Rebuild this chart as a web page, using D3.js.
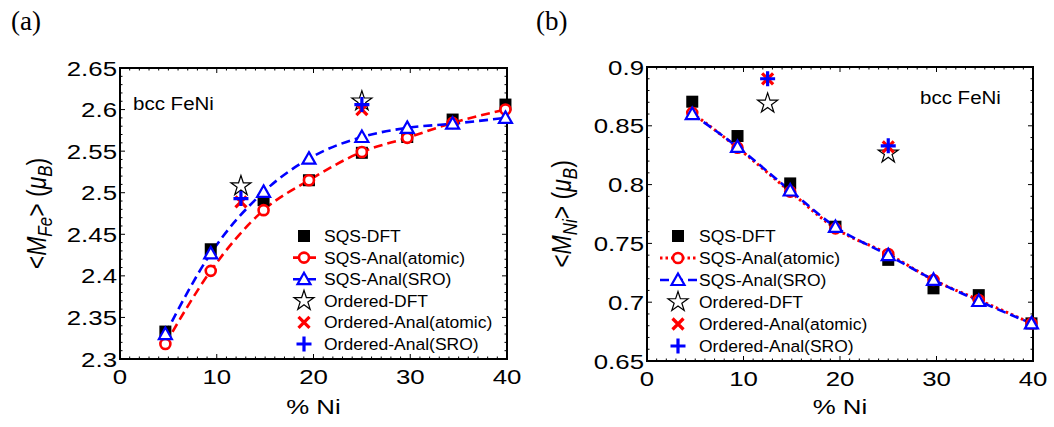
<!DOCTYPE html>
<html>
<head>
<meta charset="utf-8">
<script src="https://cdn.jsdelivr.net/npm/d3@7"></script>
<style>
  body { margin: 0; background: #fff; }
  svg { display: block; font-family: Arial, "Liberation Sans", sans-serif; }
</style>
</head>
<body>
<svg id="chart" width="1054" height="427"></svg>
<script>
// compositions (% Ni)
const xSqs = [4.69, 9.38, 14.84, 19.53, 25.0, 29.69, 34.38, 39.84];
const xOrdered = [12.5, 25.0];
const xTicks = [0, 10, 20, 30, 40];

// panel (a): Fe moments
const feSqsDft = [2.333, 2.432, 2.491, 2.515, 2.548, 2.567, 2.588, 2.606];
const feSqsAtomic = [2.318, 2.406, 2.479, 2.515, 2.549, 2.566, 2.584, 2.600];
const feSqsSro = [2.330, 2.427, 2.501, 2.541, 2.567, 2.578, 2.583, 2.590];
const feOrdDft = [2.508, 2.610];
const feOrdAtomic = [2.489, 2.600];
const feOrdSro = [2.493, 2.606];
const feTicks = [2.3, 2.35, 2.4, 2.45, 2.5, 2.55, 2.6, 2.65];

// panel (b): Ni moments
const niSqsDft = [0.8705, 0.8413, 0.801, 0.7642, 0.736, 0.7118, 0.706, 0.682];
const niSqsAtomic = [0.861, 0.8314, 0.794, 0.7628, 0.741, 0.7189, 0.7019, 0.682];
const niSqsSro = [0.860, 0.832, 0.795, 0.764, 0.740, 0.719, 0.701, 0.682];
const niOrdDft = [0.869, 0.8266];
const niOrdAtomic = [0.890, 0.832];
const niOrdSro = [0.890, 0.833];
const niTicks = [0.65, 0.7, 0.75, 0.8, 0.85, 0.9];

const legendLabels = ['SQS-DFT', 'SQS-Anal(atomic)', 'SQS-Anal(SRO)', 'Ordered-DFT', 'Ordered-Anal(atomic)', 'Ordered-Anal(SRO)'];

const svg = d3.select('#chart');
const TX = 1.26; // horizontal stretch of the tick/axis fonts

// stretched text helper
function stext(g, x, y, str, size, anchor, sx) {
  return g.append('text')
    .attr('transform', `translate(${x},${y}) scale(${sx},1)`)
    .attr('text-anchor', anchor)
    .attr('font-size', size)
    .text(str);
}

// marker drawing
function marker(g, kind, x, y) {
  if (kind === 'square') {
    g.append('rect').attr('x', x - 6).attr('y', y - 6).attr('width', 12).attr('height', 12).attr('fill', '#000');
  } else if (kind === 'circle') {
    g.append('circle').attr('cx', x).attr('cy', y).attr('r', 5).attr('fill', '#fff')
      .attr('stroke', '#f00').attr('stroke-width', 2.6);
  } else if (kind === 'triangle') {
    g.append('path').attr('d', `M${x},${y - 6.5} L${x + 6.5},${y + 5} L${x - 6.5},${y + 5} Z`)
      .attr('fill', '#fff').attr('stroke', '#00f').attr('stroke-width', 2.2).attr('stroke-linejoin', 'miter');
  } else if (kind === 'star') {
    g.append('path').attr('d', d3.symbol(d3.symbolStar, 125)())
      .attr('transform', `translate(${x},${y})`)
      .attr('fill', '#fff').attr('stroke', '#000').attr('stroke-width', 1.2);
  } else if (kind === 'cross') {
    const s = 5.5;
    g.append('path').attr('d', `M${x - s},${y - s}L${x + s},${y + s}M${x - s},${y + s}L${x + s},${y - s}`)
      .attr('stroke', '#f00').attr('stroke-width', 3.2);
  } else if (kind === 'plus') {
    const s = 7.5;
    g.append('path').attr('d', `M${x - s},${y}L${x + s},${y}M${x},${y - s}L${x},${y + s}`)
      .attr('stroke', '#00f').attr('stroke-width', 3.2);
  }
}

function drawPanel(p) {
  const g = svg.append('g');
  const x = d3.scaleLinear().domain([0, 40]).range([p.left, p.right]);
  const y = d3.scaleLinear().domain(p.yDomain).range([p.bottom, p.top]);

  // minor / major ticks, inward on all four sides
  const tg = g.append('g').attr('stroke', '#000').attr('stroke-width', 1);
  d3.range(0, 41).forEach(v => {
    const len = v % 10 === 0 ? 5 : 2.5;
    tg.append('line').attr('x1', x(v)).attr('x2', x(v)).attr('y1', p.bottom).attr('y2', p.bottom - len);
    tg.append('line').attr('x1', x(v)).attr('x2', x(v)).attr('y1', p.top).attr('y2', p.top + len);
  });
  const nMinor = Math.round((p.yDomain[1] - p.yDomain[0]) / 0.01);
  d3.range(0, nMinor + 1).forEach(i => {
    const v = p.yDomain[0] + i * 0.01;
    const len = i % 5 === 0 ? 5 : 2.5;
    tg.append('line').attr('y1', y(v)).attr('y2', y(v)).attr('x1', p.left).attr('x2', p.left + len);
    tg.append('line').attr('y1', y(v)).attr('y2', y(v)).attr('x1', p.right).attr('x2', p.right - len);
  });

  // frame
  g.append('rect').attr('x', p.left).attr('y', p.top)
    .attr('width', p.right - p.left).attr('height', p.bottom - p.top)
    .attr('fill', 'none').attr('stroke', '#000').attr('stroke-width', 2);

  // tick labels
  xTicks.forEach(v => stext(g, x(v), p.bottom + 25, v, 20.5, 'middle', TX));
  p.yTicks.forEach(v => stext(g, p.left - 3, y(v) + 7.5, d3.format('')(+v.toFixed(2)), 20.5, 'end', TX));

  // axis titles
  stext(g, (p.left + p.right) / 2, 414, '% Ni', 20.5, 'middle', TX);
  const yl = g.append('text')
    .attr('transform', `translate(${p.yLabelX},${(p.top + p.bottom) / 2}) rotate(-90) scale(1,1.2)`)
    .attr('text-anchor', 'middle').attr('font-size', 23);
  yl.append('tspan').text('<');
  yl.append('tspan').attr('font-style', 'italic').text('M');
  yl.append('tspan').attr('font-style', 'italic').attr('font-size', 17).attr('dy', 5).text(p.elem);
  yl.append('tspan').attr('dy', -5).text('> (');
  yl.append('tspan').attr('font-style', 'italic').text('μ');
  yl.append('tspan').attr('font-style', 'italic').attr('font-size', 17).attr('dy', 5).text('B');
  yl.append('tspan').attr('dy', -5).text(')');

  // panel letter
  g.append('text').attr('x', p.letterX).attr('y', 30)
    .attr('font-family', '"Times New Roman", "Liberation Serif", serif')
    .attr('font-size', 27).text(p.letter);

  // composition label
  stext(g, p.noteX, p.noteY, 'bcc FeNi', 19, 'start', 1.08);

  // lines
  const line = d3.line().x((d, i) => x(xSqs[i])).y(d => y(d)).curve(d3.curveMonotoneX);
  g.append('path').attr('d', line(p.sqsAtomic)).attr('fill', 'none')
    .attr('stroke', '#f00').attr('stroke-width', p.atomicWidth).attr('stroke-dasharray', p.atomicDash);
  g.append('path').attr('d', line(p.sqsSro)).attr('fill', 'none')
    .attr('stroke', '#00f').attr('stroke-width', 2.6).attr('stroke-dasharray', '9,5');

  // markers
  p.sqsDft.forEach((v, i) => marker(g, 'square', x(xSqs[i]), y(v)));
  p.sqsAtomic.forEach((v, i) => marker(g, 'circle', x(xSqs[i]), y(v)));
  p.sqsSro.forEach((v, i) => marker(g, 'triangle', x(xSqs[i]), y(v)));
  p.ordDft.forEach((v, i) => marker(g, 'star', x(xOrdered[i]), y(v)));
  p.ordAtomic.forEach((v, i) => marker(g, 'cross', x(xOrdered[i]), y(v)));
  p.ordSro.forEach((v, i) => marker(g, 'plus', x(xOrdered[i]), y(v)));

  // legend
  const kinds = ['square', 'circle', 'triangle', 'star', 'cross', 'plus'];
  kinds.forEach((k, i) => {
    const ly = p.legY + i * p.legStep;
    if (k === 'circle') {
      g.append('line').attr('x1', p.legLine[0]).attr('x2', p.legLine[1]).attr('y1', ly).attr('y2', ly)
        .attr('stroke', '#f00').attr('stroke-width', p.atomicWidth).attr('stroke-dasharray', p.atomicDash);
    }
    if (k === 'triangle') {
      g.append('line').attr('x1', p.legLine[0]).attr('x2', p.legLine[1]).attr('y1', ly).attr('y2', ly)
        .attr('stroke', '#00f').attr('stroke-width', 2.6).attr('stroke-dasharray', '9,5');
    }
    marker(g, k, p.legSym, ly);
    stext(g, p.legText, ly + 6, legendLabels[i], 17, 'start', 1.03);
  });
}

drawPanel({
  left: 120, right: 507, top: 68, bottom: 359,
  yDomain: [2.3, 2.65], yTicks: feTicks, elem: 'Fe',
  yLabelX: 46, letter: '(a)', letterX: 11, noteX: 133, noteY: 110,
  sqsDft: feSqsDft, sqsAtomic: feSqsAtomic, sqsSro: feSqsSro,
  ordDft: feOrdDft, ordAtomic: feOrdAtomic, ordSro: feOrdSro,
  atomicDash: '9,5', atomicWidth: 2.6,
  legY: 236, legStep: 21.6, legSym: 304, legLine: [293, 321], legText: 324
});

drawPanel({
  left: 647, right: 1033, top: 67, bottom: 361,
  yDomain: [0.65, 0.9], yTicks: niTicks, elem: 'Ni',
  yLabelX: 571, letter: '(b)', letterX: 536, noteX: 920, noteY: 104,
  sqsDft: niSqsDft, sqsAtomic: niSqsAtomic, sqsSro: niSqsSro,
  ordDft: niOrdDft, ordAtomic: niOrdAtomic, ordSro: niOrdSro,
  atomicDash: '2.5,3', atomicWidth: 3,
  legY: 236, legStep: 22, legSym: 678, legLine: [660, 698], legText: 699
});
</script>
</body>
</html>
